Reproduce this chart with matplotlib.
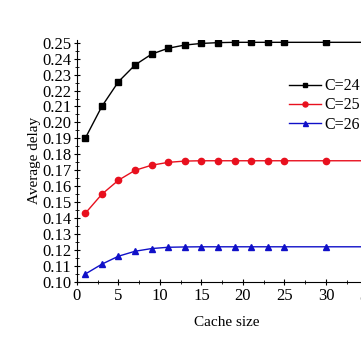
import matplotlib.pyplot as plt
from matplotlib.ticker import MultipleLocator

cache_size = [1, 3, 5, 7, 9, 11, 13, 15, 17, 19, 21, 23, 25, 30, 35]
delay_c24 = [0.190, 0.210, 0.2255, 0.2360, 0.2428, 0.2465, 0.2485, 0.2495,
             0.2500, 0.2502, 0.2502, 0.2502, 0.2502, 0.2502, 0.2502]
delay_c25 = [0.1430, 0.1550, 0.1638, 0.1700, 0.1732, 0.1750, 0.1758, 0.1760,
             0.1760, 0.1760, 0.1760, 0.1760, 0.1760, 0.1760, 0.1760]
delay_c26 = [0.1050, 0.1112, 0.1162, 0.1193, 0.1210, 0.1218, 0.1220, 0.1221,
             0.1221, 0.1221, 0.1221, 0.1221, 0.1221, 0.1221, 0.1221]
labels = ["C=24", "C=25", "C=26"]

plt.rcParams["font.family"] = ["Liberation Serif", "DejaVu Serif"]

fig = plt.figure(figsize=(3.61, 3.37), dpi=100)
ax = fig.add_axes([0.213, 0.163, 0.828, 0.719])

ax.plot(cache_size, delay_c24, color="black", marker="s", markersize=4,
        linewidth=1, label=labels[0])
ax.plot(cache_size, delay_c25, color="#e8101e", marker="o", markersize=4.5,
        linewidth=1, label=labels[1])
ax.plot(cache_size, delay_c26, color="#1010c8", marker="^", markersize=4.5,
        linewidth=1, label=labels[2])

ax.set_xlim(0, 36)
ax.set_ylim(0.1, 0.2518)
ax.xaxis.set_major_locator(MultipleLocator(5))
ax.xaxis.set_minor_locator(MultipleLocator(2.5))
ax.yaxis.set_major_locator(MultipleLocator(0.01))
ax.yaxis.set_minor_locator(MultipleLocator(0.005))
ax.yaxis.set_major_formatter(plt.FormatStrFormatter("%.2f"))
ax.tick_params(which="both", direction="inout", labelsize=12, pad=1.5)
ax.tick_params(which="major", length=5)
ax.tick_params(which="minor", length=3)

for side in ["top", "right"]:
    ax.spines[side].set_visible(False)

ax.set_xlabel("Cache size", fontsize=11, labelpad=9)
ax.set_ylabel("Average delay", fontsize=11, labelpad=1)

ax.legend(loc="upper left", bbox_to_anchor=(0.8, 0.768),
          bbox_transform=fig.transFigure, frameon=False,
          fontsize=11.5, handlelength=2.0, handletextpad=0.2,
          labelspacing=0.2, borderaxespad=0, borderpad=0,
          markerscale=0.8)

fig.savefig("out.png", dpi=100)
